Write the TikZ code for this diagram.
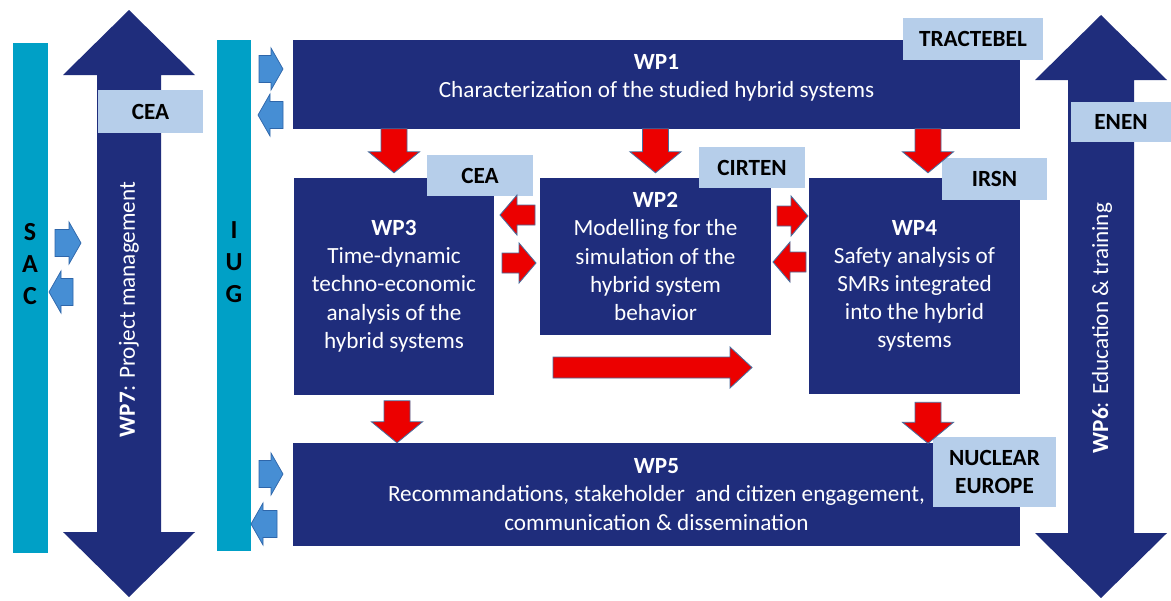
\documentclass[tikz,border=0pt]{standalone}
\usepackage{fontspec}
\setmainfont{Carlito}
\usetikzlibrary{calc}
\definecolor{wpnavy}{RGB}{31,45,124}
\definecolor{barcyan}{RGB}{0,160,198}
\definecolor{partnerblue}{RGB}{182,206,234}
\definecolor{flowred}{RGB}{236,0,0}
\definecolor{flowedge}{RGB}{72,110,158}
\definecolor{linkblue}{RGB}{70,142,212}
\definecolor{linkedge}{RGB}{46,102,170}
\newcommand{\wpfont}{\fontsize{16.5}{20}\selectfont}
\tikzstyle{wpbox} = [rectangle, fill=wpnavy, text=white, align=center,
    inner sep=0pt, font=\wpfont]
\tikzstyle{partner} = [rectangle, fill=partnerblue, text=black, align=center,
    inner sep=0pt, font=\wpfont\bfseries]
\tikzstyle{bar} = [rectangle, fill=barcyan, inner sep=0pt, minimum width=0.85cm]
\tikzstyle{barletters} = [align=center, font=\fontsize{18.5}{22.6}\selectfont\bfseries]
\tikzstyle{wpside} = [rotate=90, text=white, font=\wpfont]
\tikzstyle{flow} = [fill=flowred, draw=flowedge, line width=0.6pt]
\tikzstyle{link} = [fill=linkblue, draw=linkedge, line width=0.5pt]
\tikzstyle{wide} = [fill=wpnavy]
\tikzset{
  pics/blockarrow/.style n args={5}{code={
    \path[#1] (0,-#3) -- ({#2-#5},-#3) -- ({#2-#5},-#4) -- (#2,0)
      -- ({#2-#5},#4) -- ({#2-#5},#3) -- (0,#3) -- cycle;}},
  pics/twowayarrow/.style n args={5}{code={
    \path[#1] (0,0) -- (#5,-#4) -- (#5,-#3) -- ({#2-#5},-#3) -- ({#2-#5},-#4)
      -- (#2,0) -- ({#2-#5},#4) -- ({#2-#5},#3) -- (#5,#3) -- (#5,#4) -- cycle;}}
}

\begin{document}
\begin{tikzpicture}[x=0.025cm, y=-0.025cm]
    \path[use as bounding box, fill=white] (0,0) rectangle (1171,600);

    % WP7 and WP6 run along the whole project
    \pic[rotate=-90] at (129,10) {twowayarrow={wide}{587}{32}{66}{65}};
    \pic[rotate=-90] at (1101,15) {twowayarrow={wide}{583}{33}{66}{65}};
    \node[wpside] (wp7) at (129,309.5) {\textbf{WP7}: Project management};
    \node[wpside] (wp6) at (1102,328) {\textbf{WP6}: Education \& training};
    \node[partner, minimum width=2.625cm, minimum height=1.075cm] (cea7) at (150.5,111.5) {CEA};
    \node[partner, minimum width=2.5cm, minimum height=1cm] (enen) at (1121,122) {ENEN};

    % SAC and IUG
    \node[bar, minimum height=12.75cm] (sac) at (30.5,298) {};
    \node[barletters] (sacletters) at (30,264) {S\\A\\C};
    \node[bar, minimum height=12.775cm] (iug) at (234,295.5) {};
    \node[barletters] (iugletters) at (234,262) {I\\U\\G};
    \pic at (55,243) {blockarrow={link}{26}{13.5}{21}{12}};
    \pic[rotate=180] at (73,292) {blockarrow={link}{24}{13.5}{21}{12}};
    \pic at (259,69) {blockarrow={link}{24}{13.5}{21}{12}};
    \pic[rotate=180] at (283,115) {blockarrow={link}{25}{13.5}{21}{12}};
    \pic at (259,474) {blockarrow={link}{24}{13.5}{21}{12}};
    \pic[rotate=180] at (277,524) {blockarrow={link}{26}{13.5}{21}{12}};

    % work packages
    \node[wpbox, minimum width=18.175cm, minimum height=2.2125cm, text depth=0.4cm] (wp1)
        at (656.5,84.25) {\textbf{WP1}\\Characterization of the studied hybrid systems};
    \node[wpbox, minimum width=5cm, minimum height=5.4125cm] (wp3) at (394,286.25)
        {\textbf{WP3}\\Time-dynamic\\techno-economic\\analysis of the\\hybrid systems};
    \node[wpbox, minimum width=5.775cm, minimum height=3.925cm] (wp2) at (655.5,256.5)
        {\textbf{WP2}\\Modelling for the\\simulation of the\\hybrid system\\behavior};
    \node[wpbox, minimum width=5.275cm, minimum height=5.4cm] (wp4) at (914.5,286)
        {\textbf{WP4}\\Safety analysis of\\SMRs integrated\\into the hybrid\\systems};
    \node[wpbox, minimum width=18.175cm, minimum height=2.55cm] (wp5) at (656.5,494.5)
        {\textbf{WP5}\\Recommandations, stakeholder\ \ and citizen engagement,\\communication \& dissemination};

    % leaders
    \node[partner, minimum width=3.5cm, minimum height=1.05cm] (tractebel) at (973,39) {TRACTEBEL};
    \node[partner, minimum width=2.65cm, minimum height=1.025cm] (cea3) at (480,175.5) {CEA};
    \node[partner, minimum width=2.65cm, minimum height=1.025cm] (cirten) at (752,167.5) {CIRTEN};
    \node[partner, minimum width=2.625cm, minimum height=1.05cm] (irsn) at (994.5,179) {IRSN};
    \node[partner, minimum width=3.075cm, minimum height=1.75cm] (nuclear) at (994.5,472) {NUCLEAR\\EUROPE};

    % flows between work packages
    \pic[rotate=-90] at (wp1.south -| wp3.center) {blockarrow={flow}{44}{13}{25.5}{21}};
    \pic[rotate=-90] at (wp1.south -| wp2.center) {blockarrow={flow}{44}{13}{25.5}{21}};
    \pic[rotate=-90] at ($(wp1.south -| wp4.center)+(13.5,0)$) {blockarrow={flow}{44}{13}{25.5}{21}};
    \pic[rotate=-90] at ($(wp3.south)+(3,6)$) {blockarrow={flow}{42}{13}{25.5}{21}};
    \pic[rotate=-90] at ($(wp4.south)+(13.5,8)$) {blockarrow={flow}{41}{13}{25.5}{21}};
    \pic[rotate=180] at (535,215) {blockarrow={flow}{35}{10}{20}{17}};
    \pic at (502,263) {blockarrow={flow}{34}{10}{20}{17}};
    \pic at (777,216) {blockarrow={flow}{31}{10}{20}{17}};
    \pic[rotate=180] at (806,262) {blockarrow={flow}{33}{10}{20}{17}};
    \pic at (553,367.5) {blockarrow={flow}{199}{10.5}{20.5}{22}};
\end{tikzpicture}
\end{document}
